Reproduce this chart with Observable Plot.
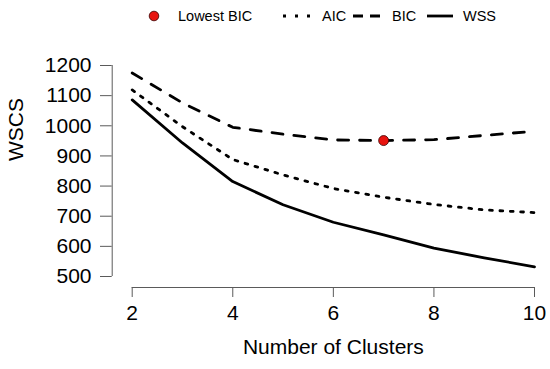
<!DOCTYPE html>
<html>
<head>
<meta charset="utf-8">
<script src="https://cdn.jsdelivr.net/npm/d3@7"></script>
<script src="https://cdn.jsdelivr.net/npm/@observablehq/plot@0.6"></script>
<style>
  body { margin: 0; background: #fff; }
  #wrap { width: 550px; height: 369px; position: relative; font-family: "Liberation Sans", Arial, sans-serif; }
  #legend { display: block; }
</style>
</head>
<body>
<div id="wrap">
  <svg id="legend" width="550" height="30" xmlns="http://www.w3.org/2000/svg" font-family="Liberation Sans, Arial, sans-serif" font-size="14.5">
    <circle cx="154" cy="16" r="4.8" fill="#e8140f" stroke="#3a0000" stroke-width="0.8"></circle>
    <text x="178" y="21">Lowest BIC</text>
    <line x1="283" y1="16" x2="310" y2="16" stroke="#000" stroke-width="2.8" stroke-dasharray="3 9"></line>
    <text x="322" y="21">AIC</text>
    <line x1="353" y1="16" x2="380" y2="16" stroke="#000" stroke-width="2.8" stroke-dasharray="10 7"></line>
    <text x="392" y="21">BIC</text>
    <line x1="427" y1="16" x2="453" y2="16" stroke="#000" stroke-width="2.8"></line>
    <text x="463" y="21">WSS</text>
  </svg>
  <div id="chart"></div>
</div>
<script>
const clusters = [2, 3, 4, 5, 6, 7, 8, 9, 10];
const wss = [1086, 943, 815, 738, 680, 638, 594, 562, 532];
const aic = [1119, 997, 888, 837, 792, 763, 739, 721, 712];
const bic = [1175, 1076, 995, 972, 953, 951, 954, 968, 982];
const xTicks = [2, 4, 6, 8, 10];
const yTicks = [500, 600, 700, 800, 900, 1000, 1100, 1200];

const rows = (vals) => clusters.map((k, i) => ({k, v: vals[i]}));
const wssData = rows(wss), aicData = rows(aic), bicData = rows(bic);
const minIdx = bic.indexOf(d3.min(bic));
const lowest = [{k: clusters[minIdx], v: bic[minIdx]}];

const axisColor = "#5a5a5a";
const chart = Plot.plot({
  width: 550,
  height: 339,
  marginLeft: 131.7,
  marginRight: 16,
  marginTop: 35,
  marginBottom: 93,
  style: {fontFamily: "Liberation Sans, Arial, sans-serif", fontSize: "21px", color: "#000", background: "#fff"},
  x: {domain: [clusters[0], clusters[clusters.length - 1]]},
  y: {domain: [yTicks[0], yTicks[yTicks.length - 1]]},
  marks: [
    Plot.ruleX([clusters[0]], {y1: yTicks[0], y2: yTicks[yTicks.length - 1], dx: -20, stroke: axisColor}),
    Plot.axisY({ticks: yTicks, tickSize: 11.7, tickPadding: 9, dx: -20, stroke: axisColor, label: null, tickFormat: d => String(d), fill: "#000"}),
    Plot.ruleY([yTicks[0]], {x1: xTicks[0], x2: xTicks[xTicks.length - 1], dy: 11, stroke: axisColor}),
    Plot.axisX({ticks: xTicks, tickSize: 10, tickPadding: 8, dy: 11, stroke: axisColor, label: null, tickFormat: d => String(d), fill: "#000"}),
    Plot.text(["WSCS"], {frameAnchor: "left", rotate: -90, dx: -116, dy: -10, fontSize: 21, fill: "#000"}),
    Plot.text(["Number of Clusters"], {frameAnchor: "bottom", dy: 77, fontSize: 21, fill: "#000"}),
    Plot.line(aicData, {x: "k", y: "v", stroke: "#000", strokeWidth: 2.8, strokeDasharray: "2.8 7.6"}),
    Plot.line(bicData, {x: "k", y: "v", stroke: "#000", strokeWidth: 2.8, strokeDasharray: "11 11"}),
    Plot.line(wssData, {x: "k", y: "v", stroke: "#000", strokeWidth: 2.8}),
    Plot.dot(lowest, {x: "k", y: "v", r: 5, fill: "#e8140f", stroke: "#3a0000", strokeWidth: 0.8})
  ]
});
document.getElementById("chart").appendChild(chart);
</script>
</body>
</html>
